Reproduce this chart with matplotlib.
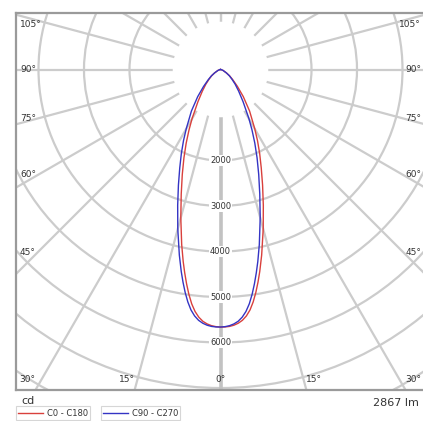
import numpy as np
import matplotlib
matplotlib.use("Agg")
import matplotlib.pyplot as plt
from matplotlib.patches import Circle
from matplotlib.lines import Line2D

# ---- data ----
gamma = [0, 1, 2, 3, 4, 5, 6, 7, 8, 9, 10, 11, 12.5, 15, 17.5, 20, 22.5, 25,
         27.5, 30, 35, 40, 45, 50, 55, 60, 70, 80, 90]
c0 = [5660, 5659, 5650, 5628, 5590, 5533, 5446, 5324, 5159, 4962, 4746, 4522,
      4179, 3628, 3130, 2704, 2340, 2036, 1760, 1507, 1114, 780, 526, 355, 246,
      152, 60, 15, 0]
c180 = [5660, 5653, 5634, 5600, 5548, 5465, 5348, 5190, 4991, 4768, 4534, 4298,
        3941, 3372, 2870, 2456, 2100, 1784, 1500, 1253, 866, 620, 454, 325, 234,
        148, 60, 15, 0]
c90 = [5660, 5653, 5634, 5600, 5548, 5465, 5348, 5190, 4991, 4768, 4534, 4298,
       3941, 3372, 2870, 2456, 2100, 1784, 1500, 1253, 866, 620, 454, 325, 234,
       148, 60, 15, 0]
c270 = [5660, 5659, 5650, 5628, 5590, 5533, 5446, 5324, 5159, 4962, 4746, 4522,
        4179, 3628, 3130, 2704, 2340, 2036, 1760, 1507, 1114, 780, 526, 355, 246,
        152, 60, 15, 0]
ring_values = [2000, 3000, 4000, 5000, 6000, 7000, 8000, 9000]
ring_labels = [2000, 3000, 4000, 5000, 6000]
side_angles = [45, 60, 75, 90, 105]
bottom_angles = [15, 30]
unit_label = "cd"
flux_label = "2867 lm"
series_names = ["C0 - C180", "C90 - C270"]
series_colors = ["#d9403c", "#3434c4"]

# ---- figure / axes geometry ----
W, H = 423, 421
fig = plt.figure(figsize=(W / 100, H / 100), dpi=100)
px_left, px_right, px_top, px_bot = 16, 425, 13, 390
ox, oy = 220.5, 69.5
cd_per_px = 1000 / 45.5
ax = fig.add_axes([px_left / W, 1 - px_bot / H, (px_right - px_left) / W,
                   (px_bot - px_top) / H])
xmin = (px_left - ox) * cd_per_px
xmax = (px_right - ox) * cd_per_px
ymin = (oy - px_bot) * cd_per_px
ymax = (oy - px_top) * cd_per_px
ax.set_xlim(xmin, xmax)
ax.set_ylim(ymin, ymax)
ax.set_xticks([])
ax.set_yticks([])
for sp in ax.spines.values():
    sp.set_color("#9a9a9a")
    sp.set_linewidth(1.6)

grid_color = "#cccccc"
# rings
for r in ring_values:
    ax.add_patch(Circle((0, 0), r, fill=False, ec=grid_color, lw=1.6, zorder=1))
# radial lines
L = 20000
for a in range(-180, 181, 15):
    t = np.deg2rad(a)
    lw = 2.6 if a == 0 else 1.6
    col = "#c2c2c2" if a == 0 else grid_color
    ax.plot([0, L * np.sin(t)], [0, -L * np.cos(t)], color=col, lw=lw,
            zorder=1, solid_capstyle="butt")
# clear zone around the lamp centre
ax.add_patch(Circle((0, 0), 1050, fc="white", ec="none", zorder=1.5))

# ring labels
for v in ring_labels:
    ax.text(0, -v, str(v), ha="center", va="center", fontsize=6, color="#333333",
            zorder=3, bbox=dict(boxstyle="square,pad=0.15", fc="white", ec="none"))

# angle labels on sides
inset = (ox - px_left - 22) * cd_per_px
for a in side_angles:
    t = np.deg2rad(a)
    y = -inset / np.tan(t) if a != 90 else 0.0
    y = min(y, ymax - 11 * cd_per_px)
    ax.text(xmin + 4 * cd_per_px, y, f"{a}°", ha="left", va="center",
            fontsize=6.5, color="#333333", zorder=3)
    ax.text(xmax - 4 * cd_per_px, y, f"{a}°", ha="right", va="center",
            fontsize=6.5, color="#333333", zorder=3)
# bottom labels
yb = ymin + 10 * cd_per_px
ax.text(0, yb, "0°", ha="center", va="center", fontsize=6.5, color="#333333", zorder=3)
for a in bottom_angles:
    xb = -ymin * np.tan(np.deg2rad(a))
    ax.text(-xb, yb, f"{a}°", ha="right", va="center", fontsize=6.5,
            color="#333333", zorder=3)
    ax.text(xb, yb, f"{a}°", ha="left", va="center", fontsize=6.5,
            color="#333333", zorder=3)

# curves
def curve(right, left):
    g = np.deg2rad(np.array(gamma))
    r_right = np.array(right, dtype=float)
    r_left = np.array(left, dtype=float)
    ang = np.concatenate([-g[::-1], g[1:]])
    rr = np.concatenate([r_left[::-1], r_right[1:]])
    return rr * np.sin(ang), -rr * np.cos(ang)

x1, y1 = curve(c0, c180)
x2, y2 = curve(c90, c270)
ax.plot(x1, y1, color=series_colors[0], lw=1.0, zorder=4)
ax.plot(x2, y2, color=series_colors[1], lw=1.0, zorder=4)

# bottom texts
fig.text(21 / W, 1 - 401 / H, unit_label, ha="left", va="center", fontsize=8,
         color="#333333")
fig.text(419 / W, 1 - 403 / H, flux_label, ha="right", va="center", fontsize=8,
         color="#333333")

# legend: one small box per series
anchors = [12 / W, 97 / W]
for name, col, xa in zip(series_names, series_colors, anchors):
    leg = fig.legend([Line2D([], [], color=col, lw=1.0)], [name],
                     loc="center left", bbox_to_anchor=(xa, 1 - 413 / H),
                     fontsize=6, handlelength=3.0, handletextpad=0.4,
                     borderpad=0.25, frameon=True, fancybox=False)
    leg.get_frame().set_edgecolor("#cccccc")
    leg.get_frame().set_linewidth(0.8)
    for t in leg.get_texts():
        t.set_color("#333333")

fig.savefig("out.png", dpi=100)
